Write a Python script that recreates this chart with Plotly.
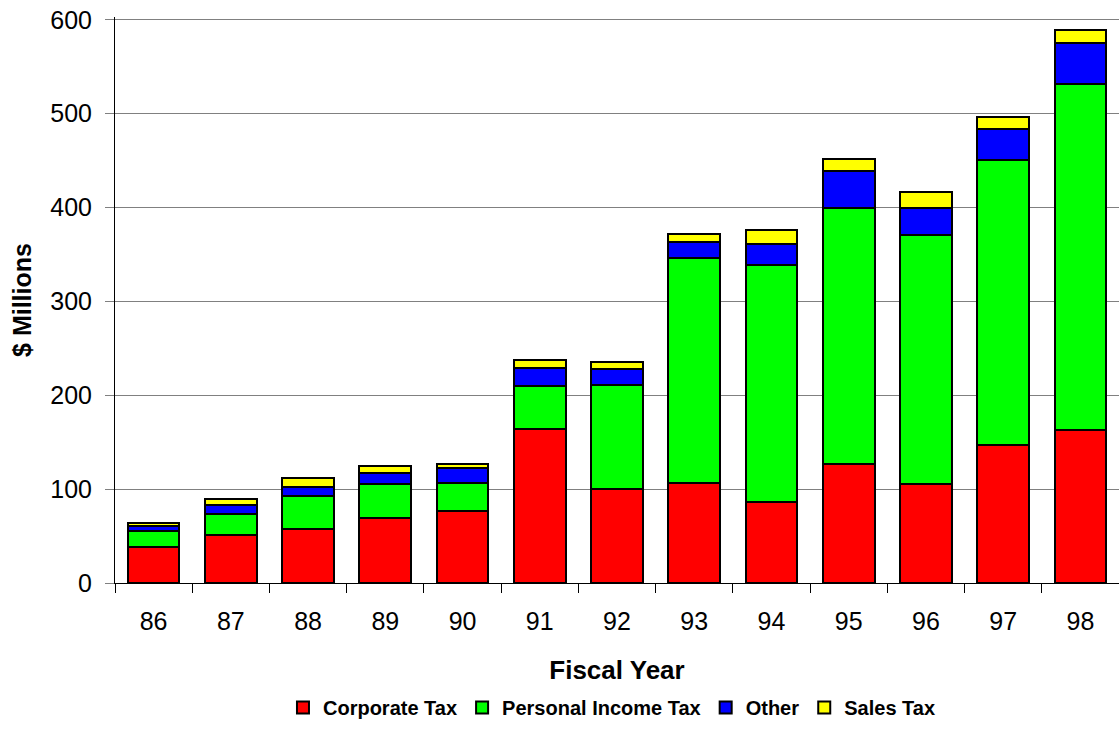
import plotly.graph_objects as go

years = [86, 87, 88, 89, 90, 91, 92, 93, 94, 95, 96, 97, 98]
corporate = [38, 51, 58, 69, 77, 164, 100, 107, 86, 127, 105, 147, 163]
personal = [17, 22, 35, 36, 30, 46, 111, 239, 253, 272, 266, 304, 369]
other = [6, 10, 9, 12, 15, 19, 17, 17, 22, 40, 29, 33, 43]
sales = [3, 6, 10, 8, 5, 9, 7, 9, 15, 13, 17, 13, 14]

series = [
    ("Corporate Tax", corporate, "#FF0000"),
    ("Personal Income Tax", personal, "#00FF00"),
    ("Other", other, "#0000FF"),
    ("Sales Tax", sales, "#FFFF00"),
]

fig = go.Figure()
for name, vals, col in series:
    fig.add_trace(go.Bar(
        x=years, y=vals, name=name,
        marker=dict(color=col, line=dict(color="black", width=2)),
    ))

FONT = "Arial, Liberation Sans, sans-serif"
fig.update_layout(
    barmode="stack",
    bargap=0.33,
    width=1119, height=747,
    margin=dict(l=115, r=0, t=17, b=164, pad=0),
    plot_bgcolor="white", paper_bgcolor="white",
    font=dict(family=FONT, color="black", size=25),
    showlegend=True,
    legend=dict(
        orientation="h", x=0.495, xanchor="center", y=-0.22, yanchor="middle",
        font=dict(size=20, family=FONT, weight="bold"),
        itemsizing="constant", traceorder="normal", tracegroupgap=0,
        itemwidth=30,
    ),
    xaxis=dict(
        automargin=False,
        range=[85.5, 98.5],
        tickmode="array", tickvals=years, ticktext=[str(y) for y in years],
        ticks="", showgrid=False, zeroline=False,
        showline=True, linecolor="black", linewidth=1,
        ticklabelstandoff=16,
        minor=dict(tick0=85.5, dtick=1, ticks="outside", ticklen=9, tickcolor="black", showgrid=False),
        title=dict(text="<b>Fiscal Year</b>", font=dict(size=26), standoff=26),
    ),
    yaxis=dict(
        automargin=False,
        range=[0, 603], dtick=100,
        showgrid=True, gridcolor="#808080", gridwidth=1,
        zeroline=True, zerolinecolor="black", zerolinewidth=1,
        showline=True, linecolor="black", linewidth=1,
        ticks="outside", ticklen=9, tickcolor="#808080",
        ticklabelstandoff=8, ticklabeloverflow="allow",
        title=dict(text="<b>$ Millions</b>", font=dict(size=25), standoff=11),
    ),
)

fig.write_html("out.html", config={"displayModeBar": False},
               post_script="document.body.style.margin='0';")
